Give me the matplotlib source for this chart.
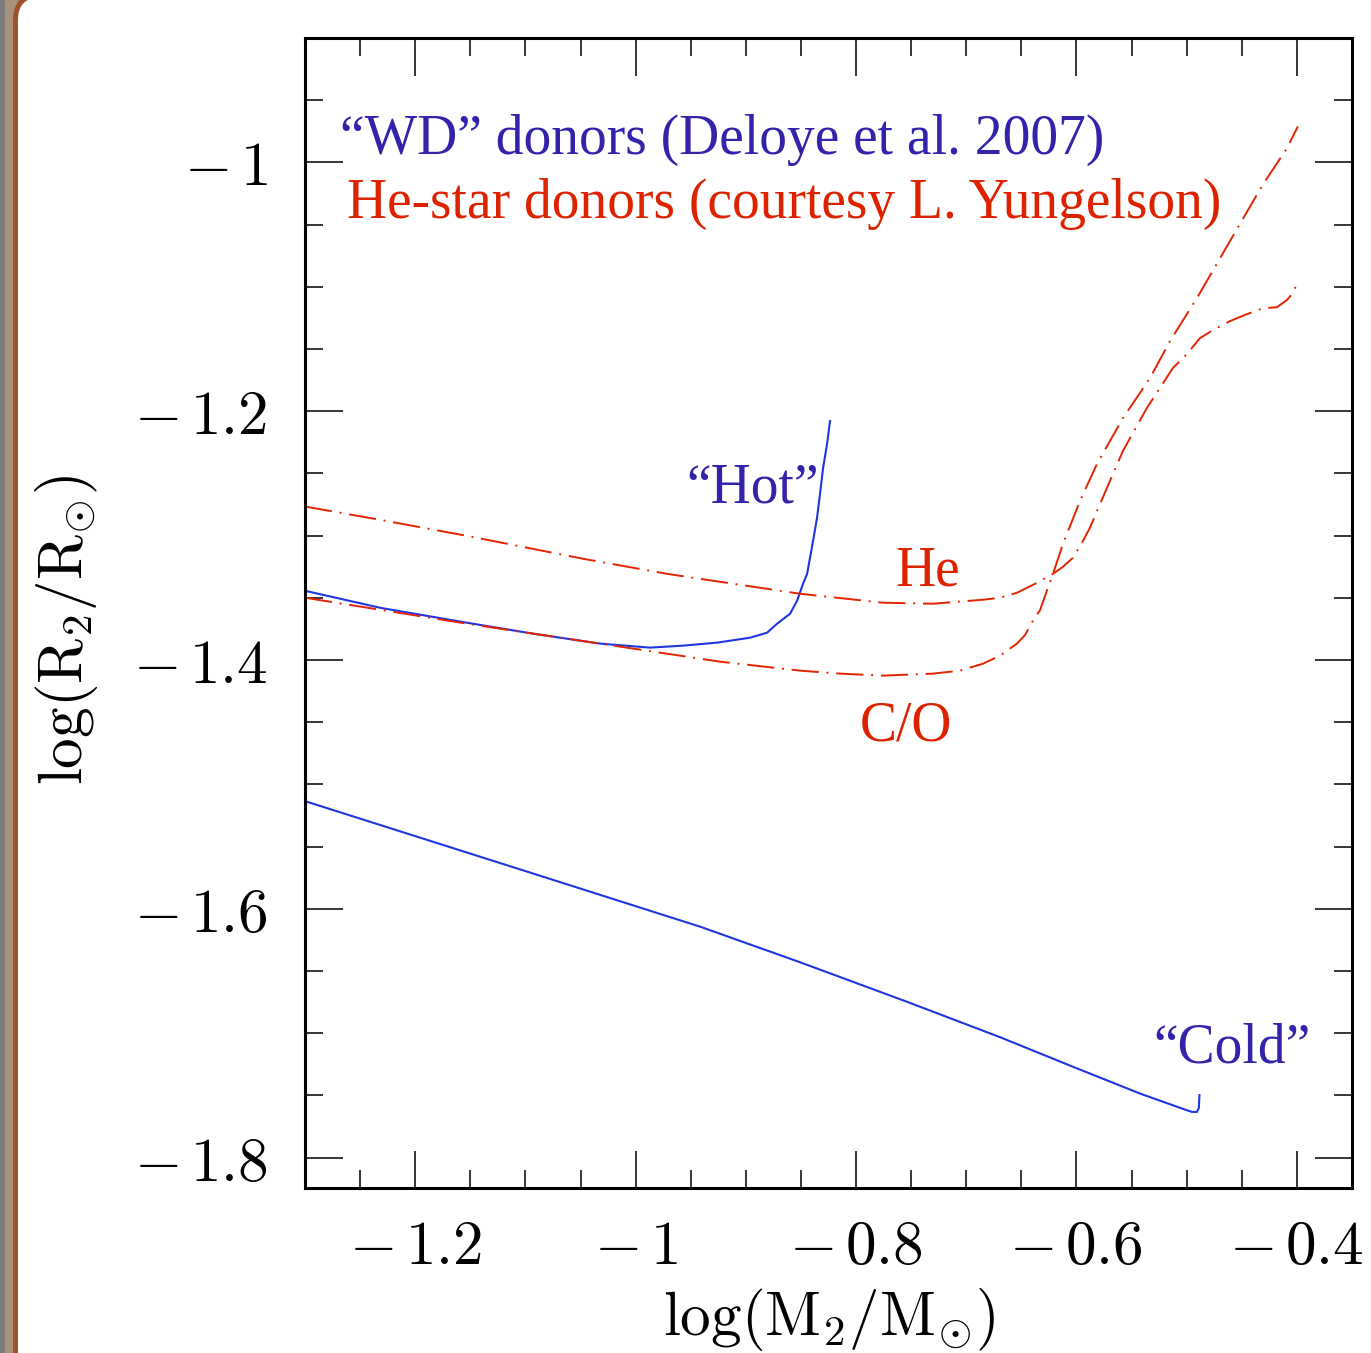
#!/usr/bin/env python
# Mass-radius relation of AM CVn donors: "WD" tracks vs He-star tracks
import matplotlib
matplotlib.use('Agg')
import matplotlib.pyplot as plt
import matplotlib.patches as mpatches
import matplotlib.ticker as mticker


######################################################################
# Data (log M2/Msun, log R2/Rsun)
######################################################################

cold_logm = [-1.300, -1.093, -0.9415, -0.8508, -0.7537, -0.6694, -0.6032,
             -0.5424, -0.5016, -0.4952, -0.4907, -0.4889, -0.4884]
cold_logr = [-1.5134, -1.5716, -1.6143, -1.6429, -1.6747, -1.7031, -1.7269,
             -1.7484, -1.7613, -1.7632, -1.7632, -1.7600, -1.7496]

hot_logm = [-1.300, -1.2317, -1.153, -1.093, -1.032, -0.9869, -0.9569,
            -0.9261, -0.8961, -0.8807, -0.8717, -0.8599, -0.8535, -0.8481,
            -0.8444, -0.8390, -0.8354, -0.8327, -0.8299, -0.8263, -0.8236]
hot_logr = [-1.3443, -1.3580, -1.3700, -1.3788, -1.3868, -1.3900, -1.3884,
            -1.3860, -1.3820, -1.3780, -1.3708, -1.3628, -1.3523, -1.3387,
            -1.3307, -1.3042, -1.2857, -1.2665, -1.2456, -1.2263, -1.2079]

he_logm = [-1.300, -1.2317, -1.1528, -1.0476, -0.9714, -0.9415, -0.8508,
           -0.7755, -0.7302, -0.6848, -0.6694, -0.6540, -0.6376, -0.6213,
           -0.6122, -0.6032, -0.5950, -0.5878, -0.5723, -0.5578, -0.5361,
           -0.5125, -0.4998, -0.4880, -0.4762, -0.4608, -0.4454, -0.4308,
           -0.4181, -0.4091, -0.4036, -0.3991]
he_logr = [-1.2766, -1.2873, -1.3002, -1.3186, -1.3307, -1.3347, -1.3467,
           -1.3539, -1.3547, -1.3515, -1.3499, -1.3459, -1.3387, -1.3307,
           -1.3250, -1.3178, -1.3058, -1.2937, -1.2616, -1.2319, -1.1974,
           -1.1653, -1.1541, -1.1413, -1.1348, -1.1276, -1.1220, -1.1172,
           -1.1164, -1.1107, -1.1051, -1.0955]

co_logm = [-1.300, -1.1528, -1.0322, -0.9234, -0.8508, -0.8145, -0.7755,
           -0.7302, -0.7057, -0.6848, -0.6694, -0.6540, -0.6467, -0.6395,
           -0.6331, -0.6268, -0.6213, -0.6122, -0.5968, -0.5814, -0.5578,
           -0.5333, -0.5152, -0.4907, -0.4608, -0.4308, -0.4091, -0.3991]
co_logr = [-1.3499, -1.3708, -1.3868, -1.4013, -1.4085, -1.4109, -1.4125,
           -1.4109, -1.4085, -1.4029, -1.3965, -1.3868, -1.3800, -1.3684,
           -1.3600, -1.3443, -1.3307, -1.3066, -1.2721, -1.2424, -1.2055,
           -1.1734, -1.1437, -1.1091, -1.0634, -1.0177, -0.9888, -0.9711]

xticks = [-1.2, -1.0, -0.8, -0.6, -0.4]
xticklabels = ['-1.2', '-1', '-0.8', '-0.6', '-0.4']
yticks = [-1.8, -1.6, -1.4, -1.2, -1.0]
yticklabels = ['-1.8', '-1.6', '-1.4', '-1.2', '-1']

BLUE_LINE = '#1f35e0'
BLUE_TEXT = '#3322aa'
RED_LINE = '#e42400'
RED_TEXT = '#dd2200'


def math_label(s):
    # SM style: gap between the minus sign and the digits
    if s.startswith('-'):
        return r'$-\,%s$' % s[1:]
    return r'$%s$' % s


######################################################################
# Graphing
######################################################################

def plot_mr():
    plt.rcParams['mathtext.fontset'] = 'cm'
    fig = plt.figure(figsize=(13.71, 13.53), dpi=100)
    fig.patch.set_facecolor('white')

    # slide frame on the left edge
    tr = fig.dpi_scale_trans
    fig.patches.append(mpatches.Rectangle((0, -1), 0.5, 20, transform=tr,
                                          facecolor='#a8937a', edgecolor='none',
                                          zorder=-10))
    fig.patches.append(mpatches.Rectangle((0, -1), 0.05, 20, transform=tr,
                                          facecolor='#7c7c7c', edgecolor='none',
                                          zorder=-9))
    fig.patches.append(mpatches.FancyBboxPatch(
        (0.155, -1), 20, 13.58 + 1, transform=tr,
        boxstyle='round,pad=0,rounding_size=0.25',
        facecolor='white', edgecolor='#a0522d', lw=3.6, zorder=-8))

    ax = fig.add_axes([0.2225, 0.1220, 0.7636, 0.8499])
    ax.set_facecolor('none')

    dashdot = (0, (14, 4, 1, 4))
    ax.plot(cold_logm, cold_logr, '-', color=BLUE_LINE, lw=1.5)
    ax.plot(hot_logm, hot_logr, '-', color=BLUE_LINE, lw=1.5)
    ax.plot(he_logm, he_logr, color=RED_LINE, lw=1.4, ls=dashdot)
    ax.plot(co_logm, co_logr, color=RED_LINE, lw=1.4, ls=dashdot)

    ax.set_xlim(-1.3, -0.35)
    ax.set_ylim(-1.8243, -0.9)

    ax.set_xticks(xticks)
    ax.set_xticklabels([math_label(s) for s in xticklabels])
    ax.set_yticks(yticks)
    ax.set_yticklabels([math_label(s) for s in yticklabels])
    ax.xaxis.set_minor_locator(mticker.MultipleLocator(0.05))
    ax.yaxis.set_minor_locator(mticker.MultipleLocator(0.05))
    ax.tick_params(which='both', direction='in', top=True, right=True,
                   width=1.1, color='black')
    ax.tick_params(which='major', length=27, labelsize=44)
    ax.tick_params(which='minor', length=13)
    ax.tick_params(axis='y', which='major', pad=27)
    ax.tick_params(axis='x', which='major', pad=22)
    for sp in ax.spines.values():
        sp.set_linewidth(2.2)

    ax.set_xlabel(r'$\log(\mathrm{M}_2/\mathrm{M}_{\odot})$', fontsize=44)
    ax.set_ylabel(r'$\log(\mathrm{R}_2/\mathrm{R}_{\odot})$', fontsize=44)
    ax.xaxis.set_label_coords(0.5, -0.085)
    ax.yaxis.set_label_coords(-0.196, 0.485)

    tfont = dict(family='Liberation Serif', fontsize=40, va='baseline',
                 ha='left')
    ax.text(-1.268, -0.9928, '\u201cWD\u201d donors (Deloye et al. 2007)',
            color=BLUE_TEXT, **tfont)
    ax.text(-1.2617, -1.0449, 'He-star donors (courtesy L. Yungelson)',
            color=RED_TEXT, **tfont)
    ax.text(-0.9542, -1.2737, '\u201cHot\u201d', color=BLUE_TEXT, **tfont)
    ax.text(-0.7646, -1.3403, 'He', color=RED_TEXT, **tfont)
    ax.text(-0.7964, -1.4647, 'C/O', color=RED_TEXT, **tfont)
    ax.text(-0.5306, -1.7231, '\u201cCold\u201d', color=BLUE_TEXT, **tfont)
    return fig


def main():
    fig = plot_mr()
    fig.savefig('out.png', dpi=100)

if __name__ == '__main__':
    main()
